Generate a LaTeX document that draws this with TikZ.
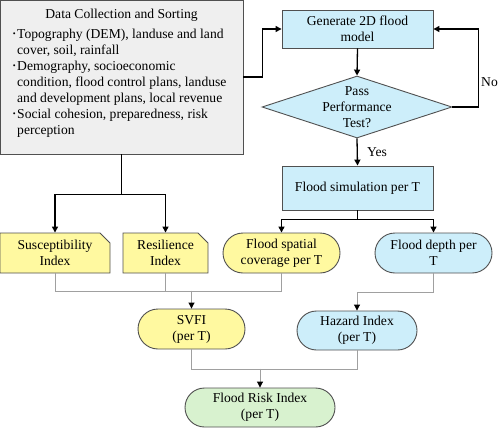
\documentclass[tikz,border=0pt]{standalone}
\usepackage{graphicx}
\usepackage{fontspec}
\setmainfont{Liberation Serif}
\usetikzlibrary{arrows.meta,shapes.geometric,shapes.misc}
\definecolor{byel}{HTML}{FFF9A0}
\definecolor{bblue}{HTML}{CDEEFA}
\definecolor{bgreen}{HTML}{D8F2CF}
\definecolor{bgray}{HTML}{EFEFEF}
\definecolor{edgec}{HTML}{505050}
\definecolor{thinc}{HTML}{A0A0A0}
\newcommand{\mybul}{\makebox[11pt][r]{\raisebox{2.5pt}{\scalebox{0.6}{\textbullet}}\hspace{1.5pt}}}
\begin{document}
\begin{tikzpicture}[x=1pt,y=-1pt,
  every node/.style={font=\fontsize{13.6}{16}\selectfont, inner sep=0pt, align=center},
  rbox/.style={rectangle, draw=edgec, line width=0.9pt, fill=bblue},
  snip/.style={chamfered rectangle, chamfered rectangle corners=north east,
     chamfered rectangle xsep=5pt, chamfered rectangle ysep=5pt,
     draw=edgec, line width=0.9pt, fill=byel, minimum height=40pt},
  stad/.style={rounded rectangle, draw=edgec, line width=0.9pt, minimum height=40pt},
  arr/.style={line width=1.3pt, -{Triangle[length=6pt,width=6pt]}},
  gl/.style={line width=0.9pt, draw=thinc},
  garr/.style={line width=0.9pt, draw=thinc, -{Triangle[length=6pt,width=6pt,fill=black,color=black]}},
]
\useasboundingbox (0,0) rectangle (500,428);

% data box
\node[rectangle, draw=edgec, line width=0.9pt, fill=bgray, minimum width=243pt, minimum height=154pt] (data) at (121.5,77) {};
\node (dtitle) at (121.5,15) {Data Collection and Sorting};
\node[anchor=north west, align=left] (dbody) at (6,29) {%
\mybul Topography (DEM), landuse and land\\
\hspace*{11pt}cover, soil, rainfall\\
\mybul Demography, socioeconomic\\
\hspace*{11pt}condition, flood control plans, landuse\\
\hspace*{11pt}and development plans, local revenue\\
\mybul Social cohesion, preparedness, risk\\
\hspace*{11pt}perception};

% right column
\node[rbox, minimum width=151pt, minimum height=38pt] (gen) at (357.5,29) {Generate 2D flood\\model};
\node[diamond, draw=edgec, line width=0.9pt, fill=bblue, minimum width=190pt, minimum height=62pt] (dia) at (357,107) {};
\node (diatext) at (357,107) {Pass\\Performance\\Test?};
\node[rbox, minimum width=151pt, minimum height=44pt] (sim) at (357.5,188) {Flood simulation per T};

% row of indices
\node[snip, minimum width=110pt] (sus) at (55,253) {Susceptibility\\Index};
\node[snip, minimum width=85pt] (res) at (165.5,253) {Resilience\\Index};
\node[stad, fill=byel, minimum width=117pt] (fsc) at (281.5,253) {Flood spatial\\coverage per T};
\node[stad, fill=bblue, minimum width=117pt] (fd) at (433.5,253) {Flood depth per\\T};

\node[stad, fill=byel, minimum width=107pt] (svfi) at (191.5,329) {SVFI\\(per T)};
\node[stad, fill=bblue, minimum width=120pt, minimum height=39pt] (haz) at (357,330.5) {Hazard Index\\(per T)};
\node[stad, fill=bgreen, minimum width=150pt, minimum height=39pt] (fri) at (260,407.5) {Flood Risk Index\\(per T)};

% black connectors
\draw[arr] (data.east) -- ++(19,0) |- (gen.west);
\draw[arr] (gen.south) -- (dia.north);
\draw[arr] (dia.east) -- ++(26,0) |- (gen.east);
\node[anchor=west] (nolab) at (481,82) {No};
\draw[arr] (dia.south) -- (sim.north);
\node[anchor=west] (yeslab) at (367,152) {Yes};
\draw[arr] (sim.south) -- ++(0,9) -| (fsc.north);
\draw[arr] (sim.south) -- ++(0,9) -| (fd.north);
\draw[arr] (data.south) -- ++(0,40) -| (sus.north);
\draw[arr] (data.south) -- ++(0,40) -| (res.north);

% gray connectors
\draw[gl] (sus.south) -- ++(0,18) -| (fsc.south);
\draw[gl] (res.south) -- ++(0,18);
\draw[garr] (svfi.north) ++(0,-18) -- (svfi.north);
\draw[garr] (fd.south) -- ++(0,19) -| (haz.north);
\draw[gl] (svfi.south) -- ++(0,20) -| (haz.south);
\draw[garr] (fri.north) ++(0,-19) -- (fri.north);
\end{tikzpicture}
\end{document}
